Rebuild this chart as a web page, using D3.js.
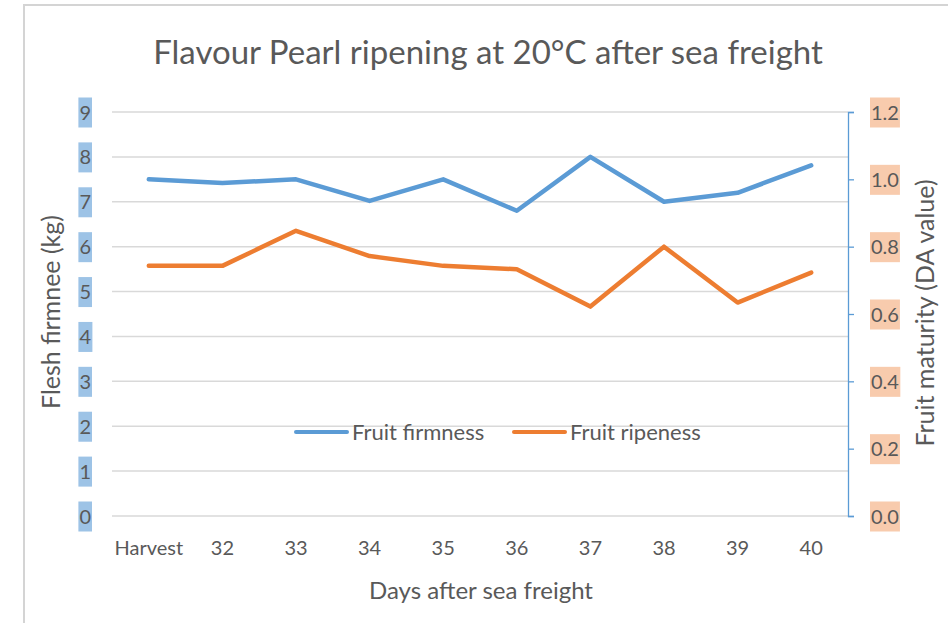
<!DOCTYPE html>
<html>
<head>
<meta charset="utf-8">
<script src="https://cdn.jsdelivr.net/npm/d3@7"></script>
<style>
  body { margin: 0; background: #fff; }
  text { font-family: Lato, "Open Sans", sans-serif; fill: #595959; }
</style>
</head>
<body>
<div class="chart"></div>
<script>
var days = ["Harvest", "32", "33", "34", "35", "36", "37", "38", "39", "40"];
var firmness = [7.5, 7.42, 7.5, 7.02, 7.5, 6.8, 8.0, 7.0, 7.2, 7.81];
var ripeness = [0.743, 0.743, 0.847, 0.772, 0.743, 0.733, 0.622, 0.80, 0.634, 0.723];
var leftTicks = [0, 1, 2, 3, 4, 5, 6, 7, 8, 9];
var rightTicks = [0, 0.2, 0.4, 0.6, 0.8, 1.0, 1.2];

var svgWidth = 948;
var svgHeight = 623;

var margin = { top: 112, right: 100, bottom: 107, left: 112 };
var width = svgWidth - margin.left - margin.right;
var height = svgHeight - margin.top - margin.bottom;

var svg = d3.select(".chart")
  .append("svg")
  .attr("width", svgWidth)
  .attr("height", svgHeight);

// frame of the pasted chart
svg.append("path")
  .attr("d", "M24," + svgHeight + " V5 H" + svgWidth)
  .attr("fill", "none")
  .attr("stroke", "#d4d4d4")
  .attr("stroke-width", 2);

svg.append("text")
  .attr("x", 488)
  .attr("y", 64)
  .attr("text-anchor", "middle")
  .style("font-size", "33px")
  .text("Flavour Pearl ripening at 20°C after sea freight");

var chartGroup = svg.append("g")
  .attr("transform", `translate(${margin.left}, ${margin.top})`);

var xScale = d3.scaleBand()
  .domain(days)
  .range([0, width]);

var yLeft = d3.scaleLinear().domain([0, 9]).range([height, 0]);
var yRight = d3.scaleLinear().domain([0, 1.2]).range([height, 0]);

// gridlines
chartGroup.selectAll(".grid")
  .data(leftTicks)
  .enter()
  .append("line")
  .attr("x1", 0)
  .attr("x2", width)
  .attr("y1", d => yLeft(d))
  .attr("y2", d => yLeft(d))
  .attr("stroke", "#d9d9d9")
  .attr("stroke-width", 1.5);

// left axis
var leftAxis = chartGroup.append("g")
  .call(d3.axisLeft(yLeft).tickValues(leftTicks).tickSize(0).tickPadding(21).tickFormat(d3.format("d")));
leftAxis.select(".domain").remove();
leftAxis.selectAll("text").style("font-size", "20px").attr("dy", "0.35em");

// right axis
var rightAxis = chartGroup.append("g")
  .attr("transform", `translate(${width}, 0)`)
  .call(d3.axisRight(yRight).tickValues(rightTicks).tickSize(6).tickPadding(17).tickSizeOuter(6).tickFormat(d3.format(".1f")));
rightAxis.select(".domain").attr("stroke", "#5b9bd5").attr("stroke-width", 1.3);
rightAxis.selectAll(".tick line").attr("stroke", "#5b9bd5").attr("stroke-width", 1.3);
rightAxis.selectAll("text").style("font-size", "20px").attr("dy", "0.35em");

// highlight boxes behind tick labels
function highlight(axis, color) {
  axis.selectAll(".tick").each(function() {
    var t = d3.select(this).select("text");
    var b = t.node().getBBox();
    d3.select(this).insert("rect", "text")
      .attr("x", b.x - 1)
      .attr("y", -15)
      .attr("width", b.width + 2)
      .attr("height", 30)
      .attr("fill", color);
  });
}
highlight(leftAxis, "#9dc3e6");
highlight(rightAxis, "#f8cbad");

// x axis labels
var bottomAxis = chartGroup.append("g")
  .attr("transform", `translate(0, ${height})`)
  .call(d3.axisBottom(xScale).tickSize(0).tickPadding(25));
bottomAxis.select(".domain").remove();
bottomAxis.selectAll("text").style("font-size", "20px");

// lines
var firmLine = d3.line()
  .x((d, i) => xScale(days[i]) + xScale.bandwidth() / 2)
  .y(d => yLeft(d));
var ripeLine = d3.line()
  .x((d, i) => xScale(days[i]) + xScale.bandwidth() / 2)
  .y(d => yRight(d));

chartGroup.append("path")
  .datum(firmness)
  .attr("d", firmLine)
  .attr("fill", "none")
  .attr("stroke", "#5b9bd5")
  .attr("stroke-width", 4.5)
  .attr("stroke-linejoin", "round")
  .attr("stroke-linecap", "round");

chartGroup.append("path")
  .datum(ripeness)
  .attr("d", ripeLine)
  .attr("fill", "none")
  .attr("stroke", "#ed7d31")
  .attr("stroke-width", 4.5)
  .attr("stroke-linejoin", "round")
  .attr("stroke-linecap", "round");

// legend
var legend = [
  { name: "Fruit firmness", color: "#5b9bd5", x: 296 },
  { name: "Fruit ripeness", color: "#ed7d31", x: 514 }
];
var lg = svg.selectAll(".legend")
  .data(legend)
  .enter()
  .append("g")
  .attr("transform", d => `translate(${d.x}, 432)`);
lg.append("line")
  .attr("x1", 0).attr("x2", 51)
  .attr("stroke", d => d.color)
  .attr("stroke-width", 4)
  .attr("stroke-linecap", "round");
lg.append("text")
  .attr("x", 56)
  .attr("dy", "0.35em")
  .style("font-size", "22px")
  .text(d => d.name);

// axis titles
svg.append("text")
  .attr("transform", "translate(60, 312) rotate(-90)")
  .attr("text-anchor", "middle")
  .style("font-size", "25px")
  .text("Flesh firmnee (kg)");

svg.append("text")
  .attr("transform", "translate(934, 313) rotate(-90)")
  .attr("text-anchor", "middle")
  .style("font-size", "25px")
  .text("Fruit maturity (DA value)");

svg.append("text")
  .attr("x", 481)
  .attr("y", 599)
  .attr("text-anchor", "middle")
  .style("font-size", "24px")
  .text("Days after sea freight");
</script>
</body>
</html>
